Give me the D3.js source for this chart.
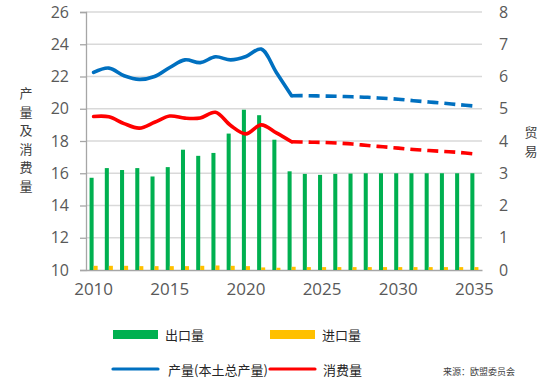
<!DOCTYPE html>
<html>
<head>
<meta charset="utf-8">
<script src="https://cdn.jsdelivr.net/npm/d3@7"></script>
<style>
  html, body { margin: 0; padding: 0; background: #fff; }
  svg { display: block; font-family: "Open Sans", "Noto Sans CJK SC", sans-serif; }
</style>
</head>
<body>
<svg id="chart" width="554" height="391"></svg>
<script>
// ---- data ----
const years = d3.range(2010, 2036);
const exportsVal = [2.86, 3.16, 3.10, 3.16, 2.90, 3.19, 3.73, 3.54, 3.63, 4.23, 4.97, 4.80, 4.04,
                    3.06, 2.98, 2.95, 2.98, 2.99, 3.00, 3.00, 3.00, 3.00, 3.00, 3.00, 3.00, 3.00];
const importsVal = [0.13, 0.13, 0.13, 0.12, 0.12, 0.12, 0.12, 0.13, 0.14, 0.13, 0.12, 0.08, 0.07,
                    0.10, 0.09, 0.09, 0.09, 0.09, 0.09, 0.09, 0.09, 0.09, 0.09, 0.09, 0.09, 0.09];
const production = [22.25, 22.52, 22.05, 21.82, 22.0, 22.56, 23.03, 22.86, 23.22, 23.03, 23.24, 23.7, 22.25,
                    20.81, 20.81, 20.79, 20.77, 20.74, 20.71, 20.65, 20.59, 20.5, 20.42, 20.34, 20.25, 20.17];
const consumption = [19.52, 19.5, 19.08, 18.8, 19.16, 19.55, 19.42, 19.43, 19.78, 18.96, 18.44, 19.0, 18.5,
                     17.95, 17.93, 17.91, 17.87, 17.81, 17.72, 17.64, 17.56, 17.47, 17.41, 17.35, 17.29, 17.2];
const lastActualYear = 2023;
const leftTicks = [10, 12, 14, 16, 18, 20, 22, 24, 26];
const rightTicks = [0, 1, 2, 3, 4, 5, 6, 7, 8];
const xTickYears = [2010, 2015, 2020, 2025, 2030, 2035];
const leftTitle = "产量及消费量";
const rightTitle = "贸易";
const barLegend = ["出口量", "进口量"];
const lineLegend = ["产量(本土总产量)", "消费量"];
const sourceText = "来源：欧盟委员会";

// ---- layout ----
const svg = d3.select("#chart");
const L = 86, R = 482, T = 12, B = 270;
const colors = { exp: "#00b050", imp: "#ffc000", prod: "#0070c0", cons: "#ff0000" };
const tickColor = "#595959";

const x = d3.scaleBand().domain(years).range([L, R]).paddingInner(0.47).paddingOuter(0.235);
const xSub = d3.scaleBand().domain(["exp", "imp"]).range([0, x.bandwidth()]);
const yL = d3.scaleLinear().domain([10, 26]).range([B, T]);
const yR = d3.scaleLinear().domain([0, 8]).range([B, T]);
const cx = d => x(d) + x.bandwidth() / 2;

// gridlines
svg.append("g").selectAll("line").data(leftTicks.slice(1)).join("line")
  .attr("x1", L).attr("x2", R)
  .attr("y1", d => yL(d)).attr("y2", d => yL(d))
  .attr("stroke", "#d9d9d9").attr("stroke-width", 1.3);

// left axis
const gL = svg.append("g").attr("transform", `translate(${L},0)`)
  .call(d3.axisLeft(yL).tickValues(leftTicks).tickSize(6).tickPadding(11));
gL.select(".domain").attr("stroke", "#a6a6a6").attr("stroke-width", 1.3);
gL.selectAll(".tick line").attr("stroke", "#a6a6a6").attr("stroke-width", 1.3);
gL.selectAll("text").attr("fill", tickColor).style("font-size", "16px")
  .style("font-family", "'Open Sans', sans-serif");

// right axis
const gR = svg.append("g").attr("transform", `translate(${R},0)`)
  .call(d3.axisRight(yR).tickValues(rightTicks).tickSize(0).tickPadding(17));
gR.select(".domain").remove();
gR.selectAll("text").attr("fill", tickColor).style("font-size", "16px")
  .style("font-family", "'Open Sans', sans-serif");

// bottom axis
const gB = svg.append("g").attr("transform", `translate(0,${B})`)
  .call(d3.axisBottom(x).tickValues(xTickYears).tickSize(0).tickPadding(13));
gB.select(".domain").attr("stroke", "#a6a6a6").attr("stroke-width", 1.3);
gB.selectAll("text").attr("fill", tickColor).style("font-size", "17px")
  .style("font-family", "'Open Sans', sans-serif");

// bars
const barData = years.map((yr, i) => ({ yr, exp: exportsVal[i], imp: importsVal[i] }));
const bars = svg.append("g");
["exp", "imp"].forEach(k => {
  bars.selectAll(".b" + k).data(barData).join("rect")
    .attr("x", d => x(d.yr) + xSub(k))
    .attr("width", xSub.bandwidth())
    .attr("y", d => yR(d[k]))
    .attr("height", d => B - yR(d[k]))
    .attr("fill", colors[k]);
});

// lines
const pts = arr => years.map((yr, i) => ({ yr, v: arr[i] }));
const line = d3.line().x(d => cx(d.yr)).y(d => yL(d.v)).curve(d3.curveCatmullRom.alpha(0.5));
[["prod", production], ["cons", consumption]].forEach(([k, arr]) => {
  const p = pts(arr);
  svg.append("path").datum(p.filter(d => d.yr <= lastActualYear))
    .attr("d", line).attr("fill", "none").attr("stroke", colors[k])
    .attr("stroke-width", 3.6).attr("stroke-linecap", "round");
  svg.append("path").datum(p.filter(d => d.yr >= lastActualYear))
    .attr("d", line).attr("fill", "none").attr("stroke", colors[k])
    .attr("stroke-width", 3.6).attr("stroke-dasharray", "11,6");
});

// axis titles (vertical stacked characters)
svg.append("g").selectAll("text").data(Array.from(leftTitle)).join("text")
  .attr("x", 26).attr("y", (d, i) => 98 + i * 18.6)
  .attr("text-anchor", "middle").attr("fill", "#404040")
  .style("font-size", "13px").style("font-family", "'Noto Sans CJK SC', sans-serif")
  .text(d => d);
svg.append("g").selectAll("text").data(Array.from(rightTitle)).join("text")
  .attr("x", 531).attr("y", (d, i) => 137 + i * 19)
  .attr("text-anchor", "middle").attr("fill", "#404040")
  .style("font-size", "13px").style("font-family", "'Noto Sans CJK SC', sans-serif")
  .text(d => d);

// legend
const legX = [113, 270];
const lg = svg.append("g").style("font-family", "'Noto Sans CJK SC', sans-serif")
  .style("font-size", "13px").attr("fill", "#262626");
barLegend.forEach((t, i) => {
  const k = ["exp", "imp"][i];
  lg.append("rect").attr("x", legX[i]).attr("y", 330).attr("width", 45).attr("height", 9)
    .attr("fill", colors[k]);
  lg.append("text").attr("x", legX[i] + 52).attr("y", 339.5).text(t);
});
lineLegend.forEach((t, i) => {
  const k = ["prod", "cons"][i];
  lg.append("line").attr("x1", legX[i]).attr("x2", legX[i] + 45).attr("y1", 369).attr("y2", 369)
    .attr("stroke", colors[k]).attr("stroke-width", 3.2).attr("stroke-linecap", "round");
  lg.append("text").attr("x", legX[i] + (i === 0 ? 55 : 53)).attr("y", 374.5).text(t);
});
svg.append("text").attr("x", 443).attr("y", 375)
  .style("font-family", "'Noto Sans CJK SC', sans-serif").style("font-size", "9px")
  .attr("fill", "#404040").text(sourceText);
</script>
</body>
</html>
